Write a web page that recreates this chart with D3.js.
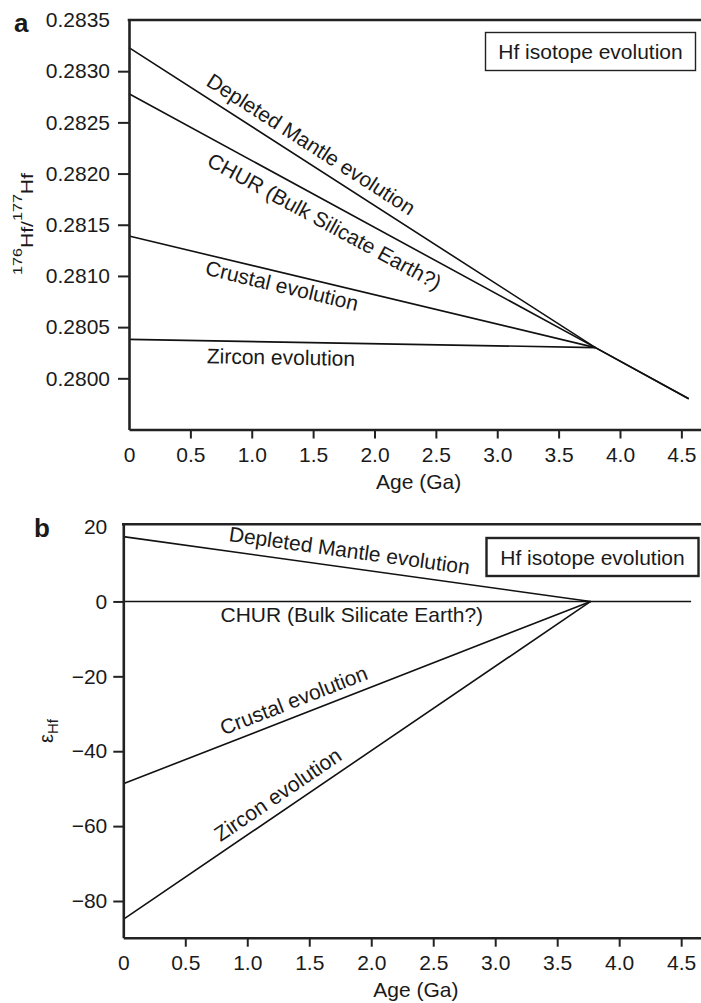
<!DOCTYPE html>
<html>
<head>
<meta charset="utf-8">
<script src="https://cdn.jsdelivr.net/npm/d3@7"></script>
<style>
  body { margin: 0; background: #fff; }
  text { font-family: "Liberation Sans", Arial, Helvetica, sans-serif; fill: #1a1a1a; }
</style>
</head>
<body>
<div class="chart"></div>
<script>
// tick values
const ageTicks = [0, 0.5, 1, 1.5, 2, 2.5, 3, 3.5, 4, 4.5];
const ratioTicks = [0.28, 0.2805, 0.281, 0.2815, 0.282, 0.2825, 0.283, 0.2835];
const epsilonTicks = [-80, -60, -40, -20, 0, 20];

const lineNames = ["Depleted Mantle evolution", "CHUR (Bulk Silicate Earth?)", "Crustal evolution", "Zircon evolution"];

// panel a: 176Hf/177Hf vs age (Ga)
const ratioDM = [[0, 0.28323], [3.8, 0.2803], [4.56, 0.2798]];
const ratioCHUR = [[0, 0.28278], [3.8, 0.2803], [4.56, 0.2798]];
const ratioCrust = [[0, 0.28139], [3.8, 0.2803]];
const ratioZircon = [[0, 0.28038], [3.8, 0.2803]];

// panel b: epsilon Hf vs age (Ga)
const epsDM = [[0, 17.3], [3.77, 0]];
const epsCHUR = [[0, 0], [4.58, 0]];
const epsCrust = [[0, -48.7], [3.77, 0]];
const epsZircon = [[0, -84.9], [3.77, 0]];

const width = 701, height = 1003;

const svg = d3.select(".chart")
  .append("svg")
  .attr("width", width)
  .attr("height", height);

function drawPanel(p) {
  const x = d3.scaleLinear().domain([0, 4.66]).range([p.left, width]);
  const y = d3.scaleLinear().domain(p.yDomain).range([p.bottom, p.top]);
  const g = svg.append("g");

  const line = d3.line().x(d => x(d[0])).y(d => y(d[1]));

  p.series.forEach(s => {
    g.append("path")
      .attr("d", line(s))
      .attr("fill", "none")
      .attr("stroke", "#111")
      .attr("stroke-width", 1.6);
  });

  // y axis
  const yAxis = g.append("g")
    .attr("transform", "translate(" + p.left + ",0)")
    .call(d3.axisLeft(y).tickValues(p.yTicks).tickFormat(p.yFormat)
      .tickSize(p.tickY).tickPadding(p.padY).tickSizeOuter(0));
  yAxis.selectAll(".tick").filter(d => d === p.yTicks[p.yTicks.length - 1]).select("line").remove();

  // x axis
  const xAxis = g.append("g")
    .attr("transform", "translate(0," + p.bottom + ")")
    .call(d3.axisBottom(x).tickValues(ageTicks).tickFormat(d => d === 0 ? "0" : d3.format(".1f")(d))
      .tickSize(9).tickPadding(p.padX).tickSizeOuter(0));
  xAxis.selectAll(".tick").filter(d => d === 0).select("line").remove();

  [yAxis, xAxis].forEach(a => {
    a.attr("font-size", null).attr("font-family", null);
    a.select(".domain").attr("stroke", "#222").attr("stroke-width", 2.6);
    a.selectAll(".tick line").attr("stroke", "#222").attr("stroke-width", 2);
    a.selectAll(".tick text").style("font-size", "21px").attr("fill", "#1a1a1a");
  });

  // top frame
  g.append("line")
    .attr("x1", p.left - 1.3).attr("x2", width)
    .attr("y1", p.top).attr("y2", p.top)
    .attr("stroke", "#222").attr("stroke-width", 2.6);

  // line labels along each curve
  p.labels.forEach((lb, i) => {
    const s = p.series[i];
    let k = 0;
    while (k < s.length - 2 && lb.age > s[k + 1][0]) k++;
    const x0 = x(s[k][0]), y0 = y(s[k][1]), x1 = x(s[k + 1][0]), y1 = y(s[k + 1][1]);
    const t = (x(lb.age) - x0) / (x1 - x0);
    const px = x0 + t * (x1 - x0), py = y0 + t * (y1 - y0);
    const ang = Math.atan2(y1 - y0, x1 - x0) * 180 / Math.PI;
    g.append("text")
      .attr("transform", "translate(" + px + "," + py + ") rotate(" + ang + ")")
      .attr("y", -lb.d)
      .attr("text-anchor", "middle")
      .style("font-size", "21px")
      .text(lineNames[i]);
  });

  // x title
  g.append("text")
    .attr("x", x(2.36))
    .attr("y", p.bottom + 59.5)
    .attr("text-anchor", "middle")
    .style("font-size", "21px")
    .text("Age (Ga)");

  // legend box
  g.append("rect")
    .attr("x", p.box[0]).attr("y", p.box[1])
    .attr("width", p.box[2]).attr("height", p.box[3])
    .attr("fill", "#fff").attr("stroke", "#222").attr("stroke-width", p.boxStroke);
  g.append("text")
    .attr("x", p.box[0] + p.box[2] / 2)
    .attr("y", p.box[1] + p.box[3] / 2 + 7.5)
    .attr("text-anchor", "middle")
    .style("font-size", "21px")
    .text("Hf isotope evolution");

  // panel letter
  g.append("text")
    .attr("x", p.letterPos[0]).attr("y", p.letterPos[1])
    .style("font-size", "26px").style("font-weight", "bold")
    .text(p.letter);

  return g;
}

const ga = drawPanel({
  left: 129, top: 20, bottom: 429.5,
  yDomain: [0.2795, 0.2835],
  yTicks: ratioTicks, yFormat: d3.format(".4f"),
  tickY: 11, padY: 8, padX: 9,
  series: [ratioDM, ratioCHUR, ratioCrust, ratioZircon],
  labels: [{age: 1.407, d: 10}, {age: 1.666, d: -26}, {age: 1.27, d: -20}, {age: 1.24, d: -22.5}],
  box: [485.5, 32.5, 210, 38], boxStroke: 1.4,
  letter: "a", letterPos: [14, 32]
});

const ylabA = ga.append("text")
  .attr("transform", "translate(33,224) rotate(-90)")
  .attr("text-anchor", "middle")
  .attr("textLength", 102)
  .attr("lengthAdjust", "spacingAndGlyphs")
  .style("font-size", "17px");
ylabA.append("tspan").attr("dy", -11).style("font-size", "13px").text("176");
ylabA.append("tspan").attr("dy", 11).text("Hf/");
ylabA.append("tspan").attr("dy", -11).style("font-size", "13px").text("177");
ylabA.append("tspan").attr("dy", 11).text("Hf");

const gb = drawPanel({
  left: 123.3, top: 524.3, bottom: 937.7,
  yDomain: [-89.8, 20.6],
  yTicks: epsilonTicks, yFormat: d3.format("d"),
  tickY: 10, padY: 6, padX: 8,
  series: [epsDM, epsCHUR, epsCrust, epsZircon],
  labels: [{age: 1.805, d: 10}, {age: 1.843, d: -21}, {age: 1.42, d: 8.5}, {age: 1.32, d: 9}],
  box: [486.5, 538, 212, 38], boxStroke: 2.4,
  letter: "b", letterPos: [34, 537]
});

const ylabB = gb.append("text")
  .attr("transform", "translate(53,731) rotate(-90)")
  .attr("text-anchor", "middle")
  .style("font-size", "20px");
ylabB.append("tspan").text("ε");
ylabB.append("tspan").attr("dy", 5).style("font-size", "15px").text("Hf");
</script>
</body>
</html>
